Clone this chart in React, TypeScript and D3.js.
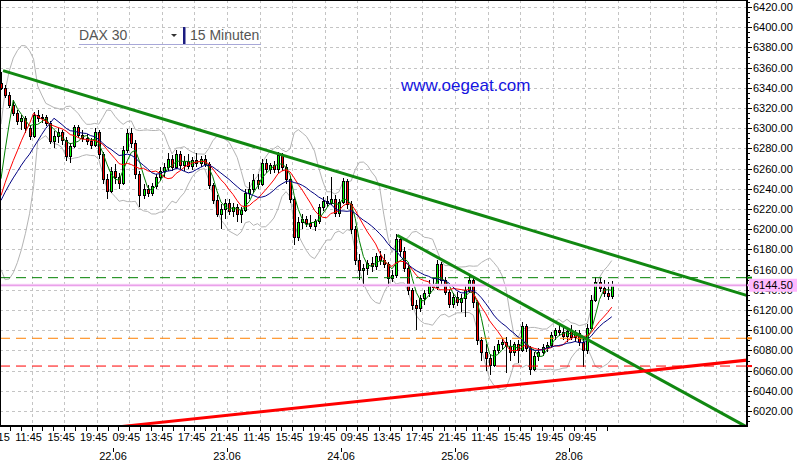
import React from "react";
import * as d3 from "d3";

// DAX 30, 21.06 - 28.06, candles of 30 minutes (08:00 - 22:00 trading day)
const opens = [
  6345, 6340, 6333, 6323, 6315, 6307, 6310, 6300, 6292, 6313, 6310, 6311, 6305, 6287, 6292, 6296, 6288, 6272, 6282, 6301, 6293, 6290, 6287, 6283, 6296, 6274, 6250, 6238,
  6258, 6252, 6246, 6278, 6295, 6285, 6255, 6234, 6240, 6236, 6243, 6252, 6258, 6262, 6270, 6262, 6274, 6264, 6268, 6263, 6269, 6266, 6270, 6265, 6244, 6229, 6215, 6220,
  6226, 6218, 6222, 6215, 6219, 6236, 6240, 6249, 6245, 6266, 6260, 6264, 6260, 6273, 6262, 6250, 6230, 6192, 6207, 6210, 6206, 6203, 6208, 6222, 6228, 6226, 6230, 6216,
  6227, 6248, 6225, 6200, 6170, 6160, 6162, 6167, 6164, 6173, 6170, 6166, 6152, 6155, 6190, 6178, 6162, 6140, 6125, 6122, 6132, 6137, 6146, 6143, 6166, 6150, 6138, 6126,
  6133, 6128, 6132, 6140, 6150, 6128, 6090, 6078, 6072, 6066, 6080, 6086, 6088, 6084, 6078, 6086, 6080, 6104, 6082, 6062, 6074, 6078, 6083, 6085, 6095, 6100, 6098, 6094,
  6099, 6093, 6097, 6088, 6080, 6102, 6130, 6148, 6142, 6137, 6134,
];
const highs = [
  6356, 6343, 6336, 6328, 6318, 6313, 6312, 6303, 6316, 6318, 6314, 6313, 6307, 6297, 6300, 6298, 6291, 6285, 6303, 6303, 6298, 6294, 6290, 6300, 6298, 6276, 6255, 6262,
  6265, 6256, 6282, 6299, 6300, 6288, 6258, 6245, 6244, 6246, 6255, 6262, 6266, 6275, 6273, 6278, 6277, 6272, 6274, 6271, 6275, 6272, 6273, 6267, 6246, 6234, 6225, 6230,
  6230, 6226, 6225, 6222, 6240, 6247, 6255, 6255, 6270, 6270, 6266, 6268, 6276, 6275, 6265, 6253, 6233, 6212, 6215, 6213, 6214, 6210, 6225, 6232, 6233, 6252, 6234, 6230,
  6251, 6250, 6228, 6203, 6175, 6166, 6170, 6172, 6176, 6178, 6175, 6168, 6160, 6195, 6192, 6182, 6165, 6142, 6130, 6135, 6140, 6150, 6152, 6170, 6168, 6153, 6140, 6137,
  6138, 6136, 6145, 6155, 6152, 6130, 6093, 6086, 6076, 6084, 6090, 6092, 6093, 6090, 6088, 6090, 6108, 6106, 6084, 6078, 6082, 6086, 6088, 6098, 6102, 6106, 6104, 6102,
  6105, 6100, 6100, 6092, 6106, 6135, 6153, 6152, 6150, 6148, 6149,
];
const lows = [
  6338, 6330, 6320, 6312, 6303, 6298, 6295, 6288, 6290, 6306, 6305, 6302, 6284, 6280, 6285, 6283, 6268, 6266, 6280, 6290, 6286, 6283, 6279, 6281, 6270, 6245, 6230, 6236,
  6245, 6240, 6244, 6275, 6280, 6250, 6222, 6230, 6232, 6233, 6240, 6248, 6252, 6258, 6258, 6260, 6260, 6258, 6260, 6259, 6262, 6262, 6262, 6240, 6225, 6212, 6200, 6210,
  6214, 6212, 6207, 6206, 6217, 6230, 6236, 6240, 6243, 6256, 6255, 6256, 6256, 6258, 6245, 6226, 6184, 6188, 6200, 6202, 6200, 6198, 6205, 6218, 6222, 6224, 6212, 6212,
  6225, 6220, 6195, 6165, 6150, 6143, 6155, 6158, 6160, 6165, 6162, 6143, 6148, 6152, 6172, 6158, 6135, 6120, 6100, 6118, 6125, 6133, 6140, 6140, 6145, 6135, 6122, 6122,
  6124, 6118, 6113, 6137, 6122, 6085, 6070, 6060, 6056, 6064, 6076, 6080, 6058, 6070, 6074, 6068, 6078, 6078, 6056, 6060, 6070, 6074, 6078, 6082, 6090, 6094, 6090, 6088,
  6090, 6088, 6084, 6064, 6076, 6100, 6128, 6138, 6133, 6130, 6131,
];
const closes = [
  6340, 6333, 6323, 6315, 6307, 6310, 6300, 6292, 6313, 6310, 6311, 6305, 6287, 6292, 6296, 6288, 6272, 6282, 6301, 6293, 6290, 6287, 6283, 6296, 6274, 6250, 6238, 6258,
  6252, 6246, 6278, 6295, 6285, 6255, 6234, 6240, 6236, 6243, 6252, 6258, 6262, 6270, 6262, 6274, 6264, 6268, 6263, 6269, 6266, 6270, 6265, 6244, 6229, 6215, 6220, 6226,
  6218, 6222, 6215, 6219, 6236, 6240, 6249, 6245, 6266, 6260, 6264, 6260, 6273, 6262, 6250, 6230, 6192, 6207, 6210, 6206, 6203, 6208, 6222, 6228, 6226, 6230, 6216, 6227,
  6248, 6225, 6200, 6170, 6160, 6162, 6167, 6164, 6173, 6170, 6166, 6152, 6155, 6190, 6178, 6162, 6140, 6125, 6122, 6132, 6137, 6146, 6143, 6166, 6150, 6138, 6126, 6133,
  6128, 6132, 6140, 6150, 6128, 6090, 6078, 6072, 6066, 6080, 6086, 6088, 6084, 6078, 6086, 6080, 6104, 6082, 6062, 6074, 6078, 6083, 6085, 6095, 6100, 6098, 6094, 6099,
  6093, 6097, 6088, 6080, 6102, 6130, 6148, 6142, 6137, 6134, 6144.5,
];

const timeLabels = [
  "08:15", "11:45", "15:45", "19:45", "09:45", "13:45", "17:45", "21:45", "11:45", "15:45",
  "19:45", "09:45", "13:45", "17:45", "21:45", "11:45", "15:45", "19:45", "09:45",
];
const dayLabels = ["22.06", "23.06", "24.06", "25.06", "28.06"];

// horizontal marker levels: resistance, last price, support 1, support 2
const levelValues = [6152, 6144.5, 6092, 6064.5];
const lastPrice = 6144.5;

// trend lines, [candle index, price]
const trendFrom = [[0.5, 6357], [97.3, 6194], [28, 6004]];
const trendTo = [[183.5, 6134], [182.8, 6005], [183.5, 6070.5]];

// moving average / bollinger periods (in candles)
const maPeriods = [4, 9, 14];
const bbPeriod = 10;
const PRIOR_CLOSE = 6220; // previous session level, history before the first candle

const smaOf = (vals: number[], n: number) =>
  vals.map((_, i) => d3.mean(d3.range(i - n + 1, i + 1), (k) => (k < 0 ? PRIOR_CLOSE : vals[k])) as number);

const bandsOf = (vals: number[], n: number, m: number) =>
  vals.map((_, i) => {
    const w = d3.range(i - n + 1, i + 1).map((k) => (k < 0 ? PRIOR_CLOSE : vals[k]));
    const mu = d3.mean(w) as number;
    const sd = Math.sqrt(d3.mean(w, (v) => (v - mu) ** 2) as number);
    return [mu - m * sd, mu + m * sd];
  });

const FONT = "Arial, 'Liberation Sans', sans-serif";

export default function App() {
  const W = 797;
  const H = 460;
  const R = 747; // right edge of plot
  const B = 426; // bottom edge of plot

  // x in trading hours since 21.06 08:00 (14h per day)
  const x = d3.scaleLinear().domain([0, 70]).range([-1, 569]);
  const y = d3.scaleLinear().domain([6005.15, 6426.93]).range([B, 0]);
  const cx = (i: number) => x(0.5 * i + 0.25);

  const line = d3
    .line<number>()
    .x((_, i) => cx(i))
    .y((v) => y(v));

  const mas = maPeriods.map((n) => smaOf(closes, n));
  const bands = bandsOf(closes, bbPeriod, 2);
  const maColors = ["#008000", "#ff0000", "#000080"];

  const levelStyles = [
    { color: "#008000", dash: "10,6", width: 1 },
    { color: "#e58fe5", dash: "", width: 1 },
    { color: "#ff8000", dash: "10,6", width: 1 },
    { color: "#ff0000", dash: "10,6", width: 1 },
  ];
  const trendColors = ["#118811", "#118811", "#ff0000"];

  const yGrid = d3.range(6020, 6421, 20);
  const xGrid = d3.range(4, 92, 4);
  const yMinor = d3.range(6010, 6426, 5);
  const xTicks = d3.range(0, 57).map((k) => (k * 4) / 3).filter((t) => t <= 75.6);
  const px = (v: number) => Math.round(v) + 0.5;

  return (
    <svg
      width={W}
      height={H}
      style={{ position: "absolute", left: 0, top: 0, background: "#fff" }}
      fontFamily={FONT}
    >
      <defs>
        <clipPath id="plot">
          <rect x={0} y={0} width={R} height={B} />
        </clipPath>
      </defs>
      <rect width={W} height={H} fill="#fff" />

      {/* grid */}
      <g stroke="#c4c4c4" strokeDasharray="3,3" shapeRendering="crispEdges">
        {yGrid.map((v) => (
          <line key={"gy" + v} x1={0} x2={R} y1={px(y(v))} y2={px(y(v))} />
        ))}
        {xGrid.map((t) => (
          <line key={"gx" + t} x1={px(x(t))} x2={px(x(t))} y1={0} y2={B} />
        ))}
      </g>

      <g clipPath="url(#plot)">
        {/* bollinger bands */}
        <path d={line(bands.map((b) => b[1])) ?? ""} fill="none" stroke="#b4b4b4" strokeWidth={1} />
        <path d={line(bands.map((b) => b[0])) ?? ""} fill="none" stroke="#b4b4b4" strokeWidth={1} />

        {/* candles */}
        {closes.map((c, i) => {
          const o = opens[i];
          const X = Math.round(cx(i)) - 1;
          const top = Math.round(y(Math.max(o, c)));
          const bot = Math.round(y(Math.min(o, c)));
          return (
            <g key={"c" + i} shapeRendering="crispEdges">
              <line x1={X + 1.5} x2={X + 1.5} y1={y(highs[i])} y2={y(lows[i])} stroke="#000" />
              <rect
                x={X + 0.5}
                y={top + 0.5}
                width={2}
                height={Math.max(1, bot - top)}
                fill={c >= o ? "#00ff00" : "#ff0000"}
                stroke="#000"
              />
            </g>
          );
        })}

        {/* moving averages */}
        {mas.map((m, k) => (
          <path key={"ma" + k} d={line(m) ?? ""} fill="none" stroke={maColors[k]} strokeWidth={1} />
        ))}

        {/* level lines */}
        {levelValues.map((v, k) => (
          <g key={"lv" + k}>
            {k === 1 && <line x1={0} x2={R} y1={y(v)} y2={y(v)} stroke="#f8d8f8" strokeWidth={3} />}
            <line
              x1={0}
              x2={R}
              y1={y(v)}
              y2={y(v)}
              stroke={levelStyles[k].color}
              strokeWidth={levelStyles[k].width}
              strokeDasharray={levelStyles[k].dash}
            />
          </g>
        ))}

        {/* trend lines */}
        {trendFrom.map((f, k) => (
          <line
            key={"tr" + k}
            x1={cx(f[0])}
            y1={y(f[1])}
            x2={cx(trendTo[k][0])}
            y2={y(trendTo[k][1])}
            stroke={trendColors[k]}
            strokeWidth={3}
          />
        ))}
      </g>

      {/* frame */}
      <g stroke="#000" shapeRendering="crispEdges">
        <line x1={0} x2={R} y1={0.5} y2={0.5} />
        <line x1={0.5} x2={0.5} y1={0} y2={B} />
        <line x1={R} x2={R} y1={0} y2={B + 1} strokeWidth={2} />
        <line x1={0} x2={R + 1} y1={B} y2={B} strokeWidth={2} />
      </g>

      {/* right axis */}
      <g stroke="#000" shapeRendering="crispEdges">
        {yMinor.map((v) => (
          <line key={"ym" + v} x1={R} x2={v % 20 === 0 ? R + 5 : R + 3} y1={px(y(v))} y2={px(y(v))} />
        ))}
      </g>
      {levelValues.map((v, k) => (
        <line key={"ls" + k} x1={R} x2={R + 5} y1={y(v)} y2={y(v)} stroke={levelStyles[k].color} strokeWidth={2} />
      ))}
      <g fontSize={11} fill="#000">
        {yGrid.map((v) => (
          <text key={"yl" + v} x={753} y={y(v)} dominantBaseline="central">
            {v.toFixed(2)}
          </text>
        ))}
      </g>
      <rect x={749} y={y(lastPrice) - 6.5} width={48} height={13} fill="#ffb9ff" />
      <text x={753} y={y(lastPrice)} dominantBaseline="central" fontSize={11} fill="#000">
        {lastPrice.toFixed(2)}
      </text>

      {/* bottom axis */}
      <g stroke="#000" shapeRendering="crispEdges">
        {xTicks.map((t) => (
          <line key={"xt" + t} x1={px(x(t))} x2={px(x(t))} y1={B} y2={B + 5} />
        ))}
        {dayLabels.map((_, k) => (
          <line key={"dt" + k} x1={px(x(14 * (k + 1)))} x2={px(x(14 * (k + 1)))} y1={448} y2={452} />
        ))}
      </g>
      <g fontSize={11} fill="#000" textAnchor="middle">
        {timeLabels.map((s, k) => (
          <text key={"tl" + k} x={x(4 * k) - 3} y={441}>
            {s}
          </text>
        ))}
        {dayLabels.map((s, k) => (
          <text key={"dl" + k} x={x(14 * (k + 1))} y={459.5}>
            {s}
          </text>
        ))}
      </g>

      {/* header */}
      <text x={79} y={40} fontSize={14} fill="#555">
        DAX 30
      </text>
      <path d="M171,34 L177,34 L174,37 Z" fill="#333" />
      <rect x={183} y={27} width={2.5} height={18} fill="#1c1c80" />
      <text x={190} y={40} fontSize={14} fill="#555">
        15 Minuten
      </text>
      <line x1={79} x2={261} y1={44.5} y2={44.5} stroke="#a8a8d8" />

      <text x={401} y={91} fontSize={17} fill="#1515e0">
        www.oegeat.com
      </text>
    </svg>
  );
}
